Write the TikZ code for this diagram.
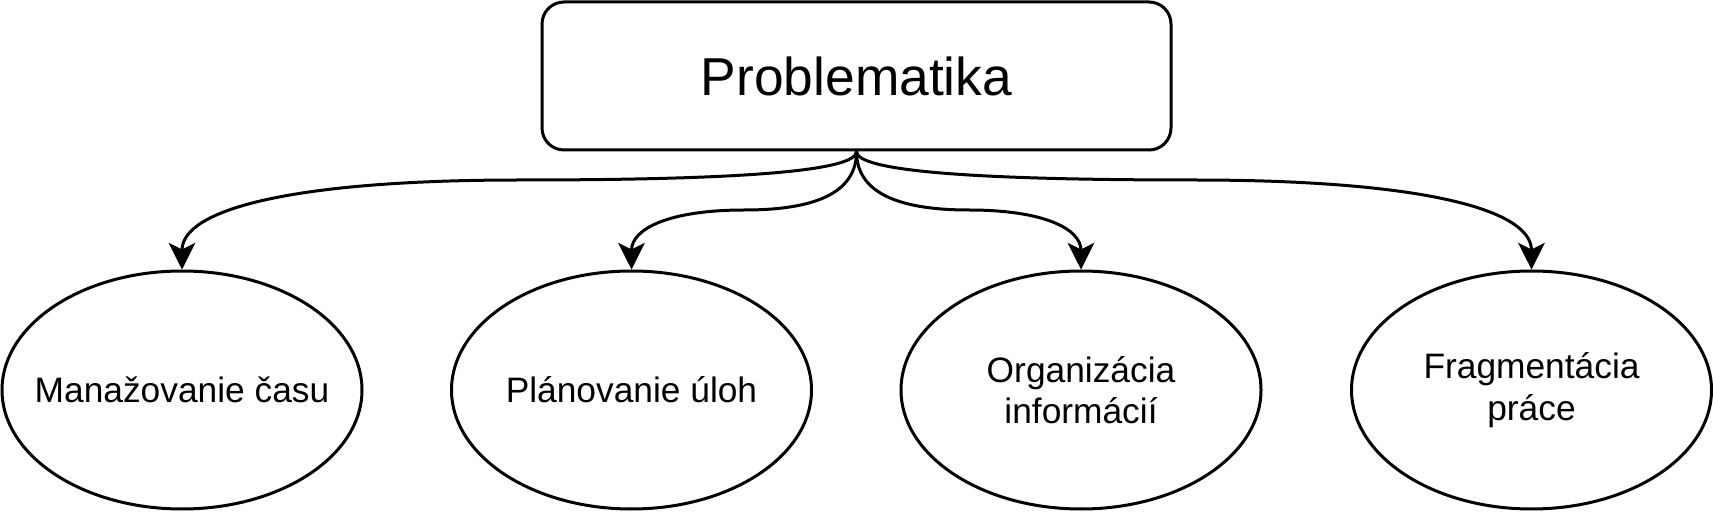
\documentclass[tikz,border=0pt]{standalone}
\usepackage{fontspec}
\setmainfont{Liberation Sans}
\usetikzlibrary{arrows.meta,shapes.geometric}
\begin{document}
\begin{tikzpicture}[x=0.75pt,y=-0.75pt,
  box/.style={draw, line width=2.25pt, rounded corners=16.5pt, minimum width=471.75pt, minimum height=111pt, inner sep=0pt, font=\fontsize{40}{48}\selectfont},
  oval/.style={draw, ellipse, line width=2.25pt, minimum width=270pt, minimum height=178.5pt, inner sep=0pt},
  lbl/.style={align=center, inner sep=0pt, font=\fontsize{26.5}{31}\selectfont},
  arr/.style={line width=2.25pt, -{Stealth[length=20pt,width=20pt,inset=5pt]}}]
\useasboundingbox (0,0) rectangle (1713,516);
\node[box] (top) at (856.5,76) {Problematika};
\node[oval, label={[lbl]center:{Manažovanie času}}] (e1) at (182,390) {};
\node[oval, label={[lbl]center:{Plánovanie úloh}}] (e2) at (631.5,390) {};
\node[oval, label={[lbl]center:{Organizácia\\informácií}}] (e3) at (1081,390) {};
\node[oval, label={[lbl]center:{Fragmentácia\\práce}}] (e4) at (1531.5,390) {};
\coordinate (m1) at (519.5,180);
\coordinate (m2) at (744.25,210);
\coordinate (m3) at (969,210);
\coordinate (m4) at (1194.25,180);
\draw[arr] (top.south) .. controls +(0,19.3) and +(225,0) .. (m1) .. controls +(-225,0) and +(0,-60.7) .. (e1.north);
\draw[arr] (top.south) .. controls +(0,39.3) and +(75.2,0) .. (m2) .. controls +(-75.2,0) and +(0,-40.7) .. (e2.north);
\draw[arr] (top.south) .. controls +(0,39.3) and +(-74.7,0) .. (m3) .. controls +(74.7,0) and +(0,-40.7) .. (e3.north);
\draw[arr] (top.south) .. controls +(0,19.3) and +(-224.8,0) .. (m4) .. controls +(224.8,0) and +(0,-60.7) .. (e4.north);
\end{tikzpicture}
\end{document}
